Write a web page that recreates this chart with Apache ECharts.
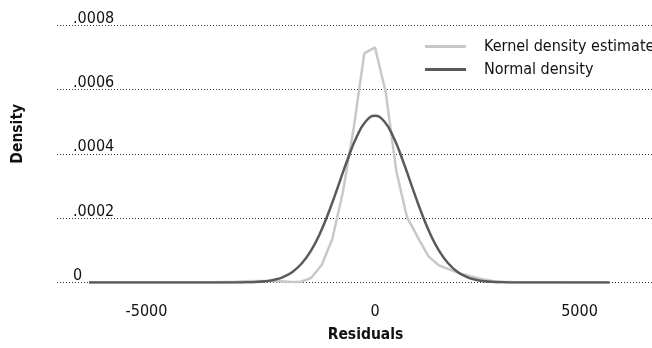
<!DOCTYPE html>
<html>
<head>
<meta charset="utf-8">
<script src="https://cdn.jsdelivr.net/npm/echarts@6/dist/echarts.min.js"></script>
<style>
html,body{margin:0;padding:0;background:#fff;}
#chart{width:652px;height:348px;}
</style>
</head>
<body>
<div id="chart"></div>
<script>
// Kernel density estimate (light gray)
var kdeX = [-6258, -4500, -3500, -3035, -2801, -2568, -2335, -2101, -1867, -1635, -1400, -1166, -934, -700, -466, -234, 0, 234, 466, 700, 934, 1166, 1400, 1635, 1867, 2101, 2335, 2568, 2801, 3035, 3500, 4200, 5134];
var kdeY = [0, 0, 0.0000005, 0.000002, 0.000004, 0.000005, 0.000005, 0.000004, 0.000002, 0.0000015, 0.000014, 0.0000544, 0.000135, 0.000283, 0.00048, 0.000712, 0.0007305, 0.000592, 0.000346, 0.000203, 0.000141, 0.000082, 0.000053, 0.00004, 0.000028, 0.0000186, 0.000011, 0.0000047, 0.000002, 0.0000015, 0.000001, 0.0000005, 0];

// Normal density (dark gray)
var normX = [-6258, -4000, -3200, -3000, -2800, -2600, -2400, -2200, -2000, -1800, -1600, -1400, -1200, -1000, -800, -600, -400, -200, 0, 200, 400, 600, 800, 1000, 1200, 1400, 1600, 1800, 2000, 2200, 2400, 2600, 2800, 3000, 3200, 4000, 5134];
var normY = [0, 0, 0.0000001, 0.0000003, 0.0000007, 0.0000017, 0.000004, 0.0000087, 0.0000178, 0.0000337, 0.0000598, 0.0000992, 0.0001538, 0.0002229, 0.0003019, 0.0003823, 0.0004526, 0.0005008, 0.000518, 0.0005008, 0.0004526, 0.0003823, 0.0003019, 0.0002229, 0.0001538, 0.0000992, 0.0000598, 0.0000337, 0.0000178, 0.0000087, 0.000004, 0.0000017, 0.0000007, 0.0000003, 0.0000001, 0, 0];

var xTicks = [-5000, 0, 5000];
var yTicks = [0, 0.0002, 0.0004, 0.0006, 0.0008];
var seriesNames = ['Kernel density estimate', 'Normal density'];
var xTitle = 'Residuals';
var yTitle = 'Density';

function pairs(xs, ys) {
  var out = [];
  for (var i = 0; i < xs.length; i++) out.push([xs[i], ys[i]]);
  return out;
}

var FONT = '"Liberation Sans Narrow", "DejaVu Sans Condensed", "Liberation Sans", sans-serif';
var FS = 16;
var TFS = 15.5;

var chart = echarts.init(document.getElementById('chart'), null, {renderer: 'canvas'});
chart.setOption({
  animation: false,
  backgroundColor: '#ffffff',
  textStyle: {fontFamily: FONT},
  grid: {left: 57, right: 0, top: 25, bottom: 65.5, containLabel: false},
  legend: {
    orient: 'vertical',
    left: 425,
    top: 35,
    padding: 0,
    icon: 'rect',
    itemWidth: 41,
    itemHeight: 3,
    itemGap: 0,
    data: seriesNames,
    textStyle: {fontFamily: FONT, fontSize: FS, color: '#111', lineHeight: 23, padding: [0, 0, 0, 13]}
  },
  xAxis: {
    type: 'value',
    min: -6958,
    max: 6061,
    name: xTitle,
    nameLocation: 'middle',
    nameGap: 44,
    nameTextStyle: {fontFamily: FONT, fontSize: TFS, fontWeight: 'bold', color: '#111', padding: [0, 0, 0, 22]},
    axisLine: {show: false},
    axisTick: {show: false},
    splitLine: {show: false},
    axisLabel: {
      customValues: xTicks,
      margin: 21,
      color: '#111',
      fontFamily: FONT,
      fontSize: FS,
      formatter: function (v) {
        if (v === 5000) return '{s|' + String(v) + '}';
        return String(v);
      },
      rich: {s: {fontFamily: FONT, fontSize: FS, color: '#111', padding: [0, 48, 0, 0]}}
    }
  },
  yAxis: {
    type: 'value',
    min: 0,
    max: 0.0008,
    interval: 0.0002,
    name: yTitle,
    nameLocation: 'middle',
    nameGap: 31,
    nameRotate: 90,
    nameTextStyle: {fontFamily: FONT, fontSize: TFS, fontWeight: 'bold', color: '#111', padding: [0, 0, 0, 40]},
    axisLine: {show: false},
    axisTick: {show: false},
    splitLine: {show: true, lineStyle: {color: '#333', width: 1, type: [1, 2]}},
    axisLabel: {
      inside: true,
      margin: 16,
      align: 'left',
      verticalAlign: 'bottom',
      lineHeight: 13,
      color: '#111',
      fontFamily: FONT,
      fontSize: FS,
      formatter: function (v) {
        if (v === 0) return '0';
        return v.toFixed(4).replace(/^0/, '');
      }
    }
  },
  series: [
    {
      name: seriesNames[0],
      type: 'line',
      data: pairs(kdeX, kdeY),
      symbol: 'none',
      smooth: false,
      lineStyle: {color: '#c8c8c8', width: 2.5},
      itemStyle: {color: '#c8c8c8'}
    },
    {
      name: seriesNames[1],
      type: 'line',
      data: pairs(normX, normY),
      symbol: 'none',
      smooth: true,
      lineStyle: {color: '#5a5a5a', width: 2.5},
      itemStyle: {color: '#5a5a5a'}
    }
  ]
});
</script>
</body>
</html>
